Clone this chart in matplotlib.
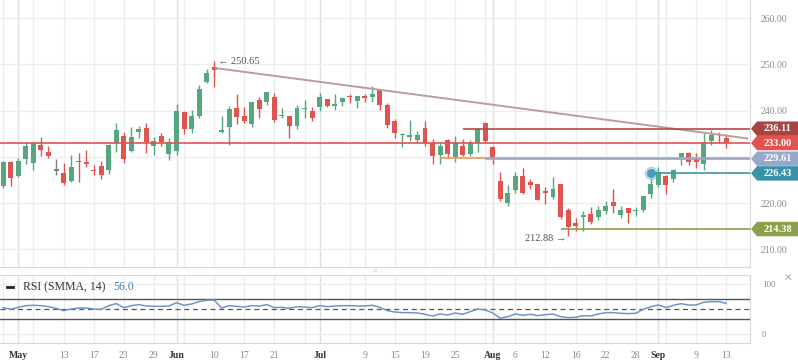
import numpy as np
import matplotlib
matplotlib.use('Agg')
import matplotlib.pyplot as plt
import matplotlib.transforms as mtransforms
from matplotlib.patches import Polygon
from matplotlib.lines import Line2D

plt.rcParams['font.family'] = ['Liberation Serif', 'DejaVu Sans']

# daily candles, one per trading day (index 0 .. 96)
opens = [223.76, 228.96, 225.93, 229.61, 228.74, 232.64, 231.12, 227.01, 226.58, 224.70,
         228.96, 228.96, 227.08, 228.09, 227.16, 233.00, 234.59, 231.20, 235.31, 236.32,
         232.28, 234.59, 230.55, 231.20, 239.79, 236.11, 238.93, 246.21, 249.46, 235.46,
         236.47, 240.59, 238.85, 237.19, 242.32, 241.81, 243.04, 238.78, 238.85, 236.76,
         240.30, 239.94, 240.87, 242.46, 241.09, 241.96, 243.11, 242.17, 243.04, 242.97,
         244.70, 241.23, 237.84, 234.67, 234.38, 233.66, 236.26, 233.00, 230.41, 233.66,
         230.05, 232.36, 230.70, 233.00, 237.34, 232.14, 224.78, 219.95, 222.84, 225.87,
         224.57, 224.13, 222.40, 221.40, 224.13, 218.51, 215.69, 217.06, 217.64, 216.99,
         218.29, 220.17, 217.42, 218.94, 218.22, 218.58, 221.97, 223.92, 225.87, 225.22,
         229.91, 230.84, 229.62, 228.54, 233.51, 234.89, 234.09]
highs = [229.18, 229.05, 229.75, 233.14, 233.14, 234.37, 232.42, 229.54, 228.74, 230.47,
         230.91, 231.48, 228.24, 229.10, 232.70, 237.40, 235.38, 236.54, 236.61, 237.40,
         234.37, 235.24, 234.08, 241.51, 239.90, 240.08, 245.64, 248.96, 250.65, 238.85,
         241.02, 243.62, 240.87, 241.90, 243.04, 244.10, 243.76, 240.51, 238.90, 241.23,
         242.24, 240.87, 243.83, 242.50, 243.62, 242.90, 243.54, 243.20, 243.69, 245.28,
         244.80, 241.60, 238.28, 235.25, 237.92, 235.68, 237.70, 233.80, 233.00, 233.87,
         234.52, 233.95, 233.59, 236.20, 237.55, 232.36, 226.73, 223.85, 226.73, 227.60,
         225.29, 224.20, 223.41, 225.65, 224.20, 219.01, 216.80, 218.29, 219.08, 219.37,
         220.45, 223.05, 219.44, 219.00, 219.08, 221.60, 225.22, 227.81, 226.00, 227.31,
         230.90, 230.99, 230.84, 235.25, 235.75, 235.39, 235.03]
lows = [223.19, 223.76, 225.70, 228.53, 227.08, 230.26, 229.68, 226.07, 223.90, 224.50,
        224.49, 227.73, 226.07, 225.14, 226.36, 230.98, 228.60, 231.00, 234.01, 230.76,
        230.33, 232.28, 229.25, 230.33, 234.89, 235.10, 238.49, 245.90, 245.20, 235.25,
        232.58, 237.12, 237.27, 236.40, 238.42, 241.31, 237.48, 238.35, 234.16, 236.04,
        238.35, 237.84, 240.01, 240.73, 240.15, 241.02, 241.60, 240.66, 241.88, 241.96,
        240.15, 236.33, 234.16, 232.22, 233.51, 233.23, 232.43, 228.54, 228.54, 229.98,
        228.97, 230.20, 230.20, 231.13, 232.94, 228.54, 220.45, 219.44, 222.26, 222.04,
        223.12, 220.60, 219.88, 220.96, 216.63, 212.88, 214.03, 214.03, 215.55, 216.41,
        217.71, 217.93, 216.70, 215.77, 217.28, 218.15, 221.18, 223.49, 222.04, 224.57,
        228.32, 228.32, 227.60, 227.17, 232.65, 233.01, 232.00]
closes = [228.82, 225.35, 229.18, 232.42, 232.93, 231.56, 230.11, 227.01, 224.27, 227.88,
          228.82, 228.38, 226.87, 226.00, 232.64, 235.89, 229.46, 234.37, 236.10, 233.29,
          233.50, 233.14, 233.29, 240.00, 236.04, 238.93, 244.70, 248.16, 248.81, 235.82,
          240.30, 238.71, 237.77, 241.81, 240.37, 244.05, 237.99, 238.93, 236.76, 240.51,
          240.37, 238.49, 242.90, 241.09, 241.52, 242.75, 242.90, 243.18, 242.82, 243.69,
          241.31, 236.98, 235.25, 234.81, 234.52, 234.74, 232.94, 230.27, 232.36, 230.70,
          232.94, 230.48, 232.94, 236.11, 233.37, 229.83, 220.96, 222.19, 225.87, 222.26,
          223.92, 220.74, 222.26, 223.12, 216.99, 214.75, 215.12, 217.35, 215.98, 218.50,
          219.30, 219.37, 218.50, 217.86, 218.36, 221.54, 224.13, 226.73, 223.92, 227.16,
          230.84, 228.97, 228.97, 233.23, 234.74, 234.67, 233.00]

rsi = [53.3, 50.0, 54.0, 57.3, 58.0, 57.3, 55.3, 52.0, 47.3, 50.6, 52.6, 52.6, 50.6, 50.0,
       57.3, 61.3, 53.3, 57.3, 59.3, 56.6, 56.0, 56.0, 56.6, 63.3, 58.0, 60.6, 65.3, 68.0,
       68.6, 52.6, 57.3, 56.0, 54.6, 57.3, 56.6, 59.3, 53.3, 54.0, 52.0, 55.3, 54.6, 53.3,
       57.3, 55.3, 56.6, 57.3, 57.3, 56.6, 56.6, 58.0, 54.0, 47.3, 44.6,
       43.3, 43.3, 42.6, 40.0, 36.6, 40.6, 38.6, 42.6, 40.0, 45.3, 50.6, 48.6, 42.6, 32.0,
       35.3, 40.6, 38.0, 40.0, 37.3, 39.3, 40.6, 35.3, 33.3, 34.0, 37.3, 36.6, 40.6, 43.3,
       43.3, 42.0, 41.3, 42.0, 50.0, 55.3, 58.6, 53.3, 58.0, 61.3, 58.6, 58.6, 64.0, 65.3,
       65.3, 62.0]

tick_pos = [2, 8, 12, 16, 20, 23, 28, 32, 36, 42, 48, 52, 56, 60, 65, 68, 72, 76, 80,
            84, 87, 92, 96]
tick_labels = ['May', '13', '17', '23', '29', 'Jun', '10', '17', '21', 'Jul', '9', '15',
               '19', '25', 'Aug', '6', '12', '16', '22', '28', 'Sep', '9', '13']
month_pos = [2, 23, 42, 65, 87]
grid_pos = [0, 4, 8, 12, 16, 20, 24, 28, 32, 36, 40, 46, 48, 52, 56, 60, 64, 68, 72,
            76, 80, 84, 88, 92, 96]

price_ticks = [210, 220, 240, 250, 260]
price_grid = [210, 220, 230, 240, 250, 260]

# horizontal levels: value, first index, colour
level_values = [236.11, 233.00, 229.85, 229.61, 226.43, 214.38]
level_starts = [61, -0.44, 58, 64, 86, 74]
level_colors = ['#b24a48', '#e0534f', '#e39a5c', '#8fa8d2', '#3d93ad', '#8aa14b']

tag_values = [236.11, 233.00, 229.61, 226.43, 214.38]
tag_colors = ['#a84543', '#e0534f', '#95a9cf', '#3a91aa', '#8aa04a']

trend_x = [28.3, 98.8]
trend_y = [249.2, 234.0]

high_mark = (28, 250.65)
low_mark = (75, 212.88)
dot_mark = (86, 226.43)
rsi_last = '56.0'

W, H = 798, 363
XMIN, XMAX = -0.44, 99.16


def draw_grid(ax):
    for g in grid_pos:
        ax.axvline(g, color='#eceef1', lw=1, zorder=0)
    for g in month_pos:
        ax.axvline(g, color='#dde0e4', lw=1, zorder=0)


def draw_candles(ax):
    x = np.arange(len(opens))
    o = np.array(opens)
    c = np.array(closes)
    cols = []
    for oo, cc in zip(o, c):
        if cc > oo:
            cols.append('#56a67f')
        elif cc < oo:
            cols.append('#e0534f')
        else:
            cols.append('#808080')
    ax.vlines(x, lows, highs, colors=cols, lw=1, zorder=3)
    bottoms = np.minimum(o, c)
    heights = np.maximum(np.abs(c - o), 0.3)
    ax.bar(x, heights, bottom=bottoms, width=0.66, color=cols, zorder=4)


def draw_tags(ax):
    trans = mtransforms.blended_transform_factory(ax.transAxes, ax.transData)
    h = 7.2 / 4.62
    x1, x2, x3 = 751 / 750, 757 / 750, 800 / 750
    for v, col in zip(tag_values, tag_colors):
        poly = Polygon([(x1, v), (x2, v + h), (x3, v + h), (x3, v - h), (x2, v - h)],
                       closed=True, facecolor=col, edgecolor='none',
                       transform=trans, clip_on=False, zorder=6)
        ax.add_patch(poly)
        ax.text(777.5 / 750, v, '{:.2f}'.format(v), transform=trans, color='white',
                fontsize=7.5, fontweight='bold', ha='center', va='center', zorder=7,
                clip_on=False)


def main():
    fig = plt.figure(figsize=(W / 100, H / 100), dpi=100)
    ax = fig.add_axes([0, 1 - 267 / H, 750 / W, 267 / H])
    ax2 = fig.add_axes([0, 1 - 342.7 / H, 750 / W, (342.7 - 275) / H])

    # main price panel
    draw_grid(ax)
    for p in price_grid:
        ax.axhline(p, color='#eceef1', lw=1, zorder=0)
    draw_candles(ax)

    ax.plot(trend_x, trend_y, color='#bc9c9c', lw=1.4, zorder=5)
    for v, s, col in zip(level_values, level_starts, level_colors):
        ax.hlines(v, s, XMAX, colors=col, lw=1.2, zorder=5)
    ax.plot(*dot_mark, 'o', ms=9, color='#4a9cc4', alpha=0.3, zorder=6)
    ax.plot(*dot_mark, 'o', ms=5.5, color='#4a9cc4', zorder=6)

    ax.annotate('\u2190 250.65', xy=high_mark, xytext=(2.5, 0), textcoords='offset points',
                ha='left', va='center', fontsize=7.5, color='#555555')
    ax.annotate('212.88 \u2192', xy=low_mark, xytext=(-1.5, -1.5), textcoords='offset points',
                ha='right', va='center', fontsize=7.5, color='#555555')

    ax.set_xlim(XMIN, XMAX)
    ax.set_ylim(206.17, 263.96)
    ax.set_xticks([])
    ax.yaxis.tick_right()
    ax.set_yticks(price_ticks)
    ax.set_yticklabels(['{:.2f}'.format(p) for p in price_ticks])
    ax.tick_params(axis='y', length=0, pad=8, labelsize=7, labelcolor='#8a8a8a')
    for side in ['top', 'left']:
        ax.spines[side].set_visible(False)
    for side in ['right', 'bottom']:
        ax.spines[side].set_color('#d6d9dd')
    draw_tags(ax)

    # RSI panel
    draw_grid(ax2)
    for p in [0, 100]:
        ax2.axhline(p, color='#eceef1', lw=1, zorder=0)
    ax2.axhline(70, color='#555555', lw=1)
    ax2.axhline(30, color='#555555', lw=1)
    ax2.axhline(50, color='#555555', lw=0.9, ls=(0, (4, 3)))
    ax2.plot(np.arange(len(rsi)), rsi, color='#6f95c9', lw=1.1, zorder=3)

    ax2.set_xlim(XMIN, XMAX)
    ax2.set_ylim(-16.8, 118.6)
    ax2.yaxis.tick_right()
    ax2.set_yticks([0, 100])
    ax2.set_yticklabels(['0', '100'])
    ax2.tick_params(axis='y', length=0, pad=8.5, labelsize=6.5, labelcolor='#8a8a8a')
    ax2.set_xticks(tick_pos)
    ax2.set_xticklabels(tick_labels)
    ax2.tick_params(axis='x', length=0, pad=6, labelsize=7, labelcolor='#8a8a8a')
    for lab in ax2.get_xticklabels():
        if lab.get_text() in ('May', 'Jun', 'Jul', 'Aug', 'Sep'):
            lab.set_fontweight('bold')
            lab.set_color('#333333')
    ax2.spines['left'].set_visible(False)
    for side in ['right', 'bottom', 'top']:
        ax2.spines[side].set_color('#d6d9dd')

    # RSI legend and small widgets
    ly = 1 - 287 / H
    fig.add_artist(Line2D([7 / W, 13 / W], [ly, ly], lw=2, color='#222222',
                          transform=fig.transFigure))
    fig.text(23 / W, ly, 'RSI (SMMA, 14)', fontsize=8.5, color='#333333', va='center')
    fig.text(113 / W, ly, rsi_last, fontsize=8.5, color='#4a7ab8', va='center')
    fig.text(788 / W, 1 - 279 / H, '\u00d7', fontsize=11, color='#999999',
             ha='center', va='center')
    fig.text(375 / W, 1 - 270 / H, '\u2261', fontsize=6, color='#cccccc',
             ha='center', va='center')

    fig.savefig('out.png', dpi=100)


if __name__ == '__main__':
    main()
